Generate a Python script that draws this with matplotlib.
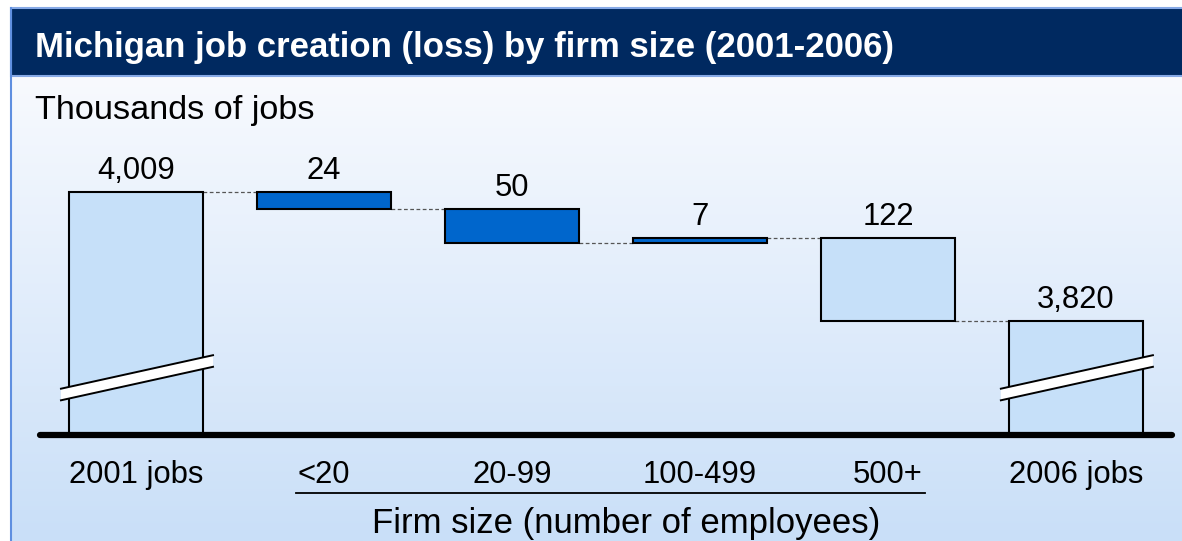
import numpy as np
import matplotlib.pyplot as plt
from matplotlib.patches import Rectangle, Polygon
from matplotlib.colors import LinearSegmentedColormap

plt.rcParams['font.family'] = ['Liberation Sans', 'DejaVu Sans']

# Michigan jobs, thousands
categories = ['2001 jobs', '<20', '20-99', '100-499', '500+', '2006 jobs']
start_total = 4009
changes = [-24, -50, 7, -122]   # by firm size
end_total = 3820
bar_colors = ['#C6E0F9', '#0066CC', '#0066CC', '#0066CC', '#C6E0F9', '#C6E0F9']

# broken axis: the two totals start from this level instead of zero
axis_floor = 3652
px_per_k = 0.68

W, H = 1182, 541
fig = plt.figure(figsize=(W / 100, H / 100), dpi=100)

# background, banner, frame (pixel coordinates)
bg = fig.add_axes([0, 0, 1, 1])
bg.set_xlim(0, W)
bg.set_ylim(H, 0)
bg.axis('off')
grad = LinearSegmentedColormap.from_list('bg', ['#F8FAFE', '#C9DFF8'])
bg.imshow(np.linspace(0, 1, 256).reshape(-1, 1), cmap=grad, aspect='auto',
          extent=[11, W, H, 76], zorder=0)
bg.add_patch(Rectangle((11, 8), W, 68, facecolor='#002960', edgecolor='#86A9E6',
                       lw=1.5, zorder=1))
bg.plot([11, 11], [8, H], color='#5F8FE0', lw=1.5, zorder=2)
bg.text(35, 57, 'Michigan job creation (loss) by firm size (2001-2006)',
        color='white', fontsize=25, fontweight='bold', va='baseline', zorder=3)
bg.text(35, 119, 'Thousands of jobs', fontsize=24.7, va='baseline', zorder=3)

# waterfall geometry
levels = [start_total]
for c in changes:
    levels.append(levels[-1] + c)
values = [start_total] + changes + [end_total]
bottoms = [axis_floor]
heights = [start_total - axis_floor]
for i, c in enumerate(changes):
    bottoms.append(min(levels[i], levels[i + 1]))
    heights.append(abs(c))
bottoms.append(axis_floor)
heights.append(end_total - axis_floor)

ax = fig.add_axes([40 / W, (H - 435) / H, 1132 / W, 285 / H])
ax.patch.set_alpha(0)
x = np.arange(len(categories))
width = 134 / 188
ax.bar(x, heights, bottom=bottoms, width=width, color=bar_colors,
       edgecolor='black', linewidth=1.5, zorder=3)
ax.set_xlim(-0.511, 5.511)
ax.set_ylim(axis_floor, axis_floor + 285 / px_per_k)

# dashed connectors
for i in range(len(categories) - 1):
    ax.plot([i + width / 2, i + 1 - width / 2], [levels[min(i, 4)]] * 2,
            color='#555555', lw=0.9, ls=(0, (3, 2)), zorder=2)

# value labels
for i, v in enumerate(values):
    ax.annotate(f'{abs(v):,}', (x[i], bottoms[i] + heights[i]),
                xytext=(0, 9.4), textcoords='offset points',
                ha='center', va='baseline', fontsize=22.3)

# axis break marks on the total bars
for i in (0, 5):
    x0 = i - width / 2 - 0.043
    x1 = i + width / 2 + 0.053
    y0 = axis_floor + (435 - 394.5) / px_per_k
    y1 = axis_floor + (435 - 361) / px_per_k
    hw = 5.8 / px_per_k
    ax.add_patch(Polygon([(x0, y0 - hw), (x1, y1 - hw), (x1, y1 + hw), (x0, y0 + hw)],
                         closed=True, facecolor='white', edgecolor='none',
                         zorder=4, clip_on=False))
    for s in (-hw, hw):
        ax.plot([x0, x1], [y0 + s, y1 + s], color='black', lw=1.4,
                zorder=5, clip_on=False)

# baseline
ax.axhline(axis_floor, color='black', lw=4.5, solid_capstyle='round',
           zorder=6, clip_on=False)

for s in ax.spines.values():
    s.set_visible(False)
ax.set_yticks([])
ax.set_xticks(x, categories, fontsize=22.3)
ax.tick_params(axis='x', length=0, pad=18)

# firm-size group underline and title
tr = ax.get_xaxis_transform()
ax.plot([0.851, 4.197], [-0.2035, -0.2035], color='black', lw=1.3,
        transform=tr, clip_on=False)
ax.text(2.606, -0.343, 'Firm size (number of employees)', transform=tr,
        ha='center', va='baseline', fontsize=25)

fig.savefig('out.png', dpi=100)
